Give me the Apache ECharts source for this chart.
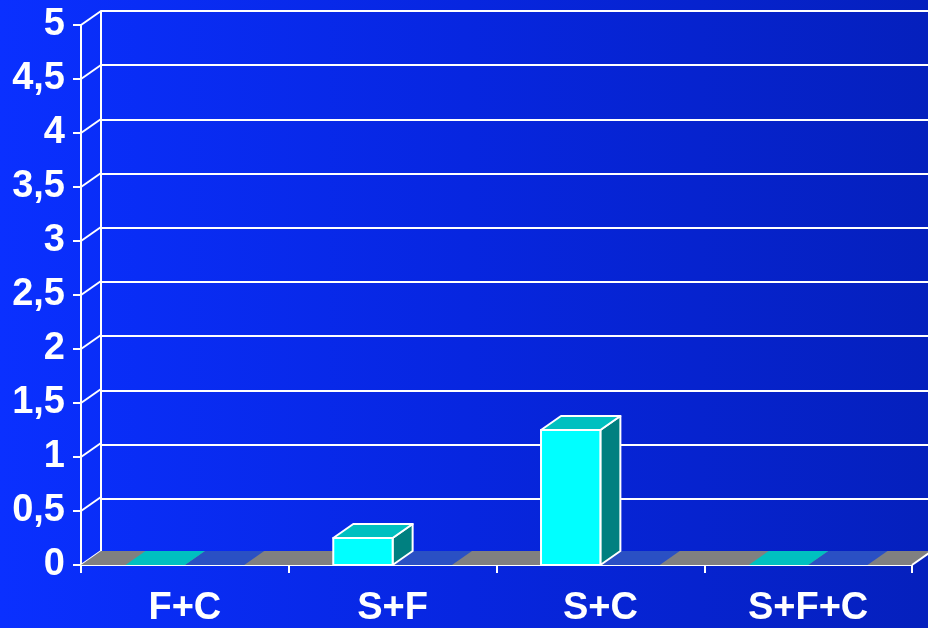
<!DOCTYPE html>
<html>
<head>
<meta charset="utf-8">
<script src="https://cdn.jsdelivr.net/npm/echarts@6/dist/echarts.min.js"></script>
<style>
  html, body { margin: 0; padding: 0; }
  #chart { width: 928px; height: 628px; }
</style>
</head>
<body>
<div id="chart"></div>
<script>
// Categories and values of the two column series
const categories = ['F+C', 'S+F', 'S+C', 'S+F+C'];
const seriesA = [0, 0.25, 1.25, 0];   // cyan columns
const seriesB = [0, 0, 0, 0];         // second series, all zero
const yTicks = [0, 0.5, 1, 1.5, 2, 2.5, 3, 3.5, 4, 4.5, 5];

// Depth offset of the pseudo-3D walls and columns (px)
const DX = 20, DY = -14;
const GAP = 1.5; // gap between category groups, in bar widths
const FONT = '"Liberation Sans", Arial, sans-serif';

const chart = echarts.init(document.getElementById('chart'), null, { renderer: 'canvas' });

function columnRenderer(seriesIndex, colors) {
  return function (params, api) {
    const cat = api.value(0);
    const val = api.value(1);
    const band = api.size([1, 0])[0];
    const bw = band / (2 + GAP);
    const center = api.coord([cat, 0])[0];
    const x0 = center - bw + seriesIndex * bw;
    const x1 = x0 + bw;
    const yb = api.coord([cat, 0])[1];
    const yt = api.coord([cat, val])[1];
    const children = [];
    const outline = val > 0 ? { stroke: '#ffffff', lineWidth: 2, lineJoin: 'round' } : { stroke: null };
    if (val > 0) {
      children.push({
        type: 'polygon',
        shape: { points: [[x1, yb], [x1 + DX, yb + DY], [x1 + DX, yt + DY], [x1, yt]] },
        style: Object.assign({ fill: colors.side }, outline)
      });
      children.push({
        type: 'rect',
        shape: { x: x0, y: yt, width: bw, height: yb - yt },
        style: Object.assign({ fill: colors.front }, outline)
      });
    }
    children.push({
      type: 'polygon',
      shape: { points: [[x0, yt], [x0 + DX, yt + DY], [x1 + DX, yt + DY], [x1, yt]] },
      style: Object.assign({ fill: colors.top }, outline)
    });
    return { type: 'group', children: children };
  };
}

const option = {
  backgroundColor: {
    type: 'linear', x: 0, y: 0, x2: 1, y2: 0,
    colorStops: [
      { offset: 0, color: '#0a30ff' },
      { offset: 0.5, color: '#0726e0' },
      { offset: 1, color: '#0520bd' }
    ]
  },
  animation: false,
  grid: [
    { left: 81, right: 16, top: 25, bottom: 61 },
    { left: 81 + DX, right: 16 - DX, top: 25 + DY, bottom: 61 - DY }
  ],
  xAxis: [
    {
      type: 'category', gridIndex: 0, data: categories,
      axisLine: { show: true, lineStyle: { color: '#ffffff', width: 2 } },
      axisTick: { show: true, alignWithLabel: false, length: 8, lineStyle: { color: '#ffffff', width: 2 } },
      axisLabel: { color: '#ffffff', fontFamily: FONT, fontWeight: 'bold', fontSize: 38, margin: 25 },
      splitLine: { show: false }
    },
    {
      type: 'category', gridIndex: 1, data: categories,
      axisLine: { show: false }, axisTick: { show: false }, axisLabel: { show: false }
    }
  ],
  yAxis: [
    {
      type: 'value', gridIndex: 0, min: 0, max: 5, interval: 0.5,
      axisLine: { show: true, lineStyle: { color: '#ffffff', width: 2 } },
      axisTick: { show: true, length: 8, lineStyle: { color: '#ffffff', width: 2 } },
      axisLabel: {
        color: '#ffffff', fontFamily: FONT, fontWeight: 'bold', fontSize: 38, margin: 16,
        formatter: v => String(v).replace('.', ',')
      },
      splitLine: { show: false }
    },
    {
      type: 'value', gridIndex: 1, min: 0, max: 5, interval: 0.5,
      axisLine: { show: true, lineStyle: { color: '#ffffff', width: 2 } },
      axisTick: { show: false }, axisLabel: { show: false },
      splitLine: { show: true, lineStyle: { color: '#ffffff', width: 2 } }
    }
  ],
  series: [
    {
      // side wall: diagonals from the value axis ticks to the back wall gridlines
      type: 'custom', xAxisIndex: 0, yAxisIndex: 0, z: 3, silent: true,
      data: yTicks.map(v => [0, v]),
      renderItem: function (params, api) {
        const x = params.coordSys.x;
        const y = api.coord([0, api.value(1)])[1];
        return {
          type: 'line',
          shape: { x1: x, y1: y, x2: x + DX, y2: y + DY },
          style: { stroke: '#ffffff', lineWidth: 2 }
        };
      }
    },
    {
      // floor
      type: 'custom', xAxisIndex: 0, yAxisIndex: 0, z: 3, silent: true,
      data: [[0, 0]],
      renderItem: function (params, api) {
        const cs = params.coordSys;
        const y = api.coord([0, 0])[1];
        const xl = cs.x, xr = cs.x + cs.width;
        return {
          type: 'group',
          children: [
            {
              type: 'polygon',
              shape: { points: [[xl, y], [xl + DX, y + DY], [xr + DX, y + DY], [xr, y]] },
              style: { fill: '#808080', stroke: null }
            },
            {
              type: 'line',
              shape: { x1: xr, y1: y, x2: xr + DX, y2: y + DY },
              style: { stroke: '#ffffff', lineWidth: 2 }
            }
          ]
        };
      }
    },
    {
      type: 'custom', xAxisIndex: 0, yAxisIndex: 0, z: 4, silent: true,
      data: seriesB.map((v, i) => [i, v]),
      renderItem: columnRenderer(1, { front: '#3366ff', top: '#2a50c4', side: '#1f3ea0' })
    },
    {
      type: 'custom', xAxisIndex: 0, yAxisIndex: 0, z: 5, silent: true,
      data: seriesA.map((v, i) => [i, v]),
      renderItem: columnRenderer(0, { front: '#00ffff', top: '#00c0c0', side: '#008080' })
    }
  ]
};

chart.setOption(option);
</script>
</body>
</html>
